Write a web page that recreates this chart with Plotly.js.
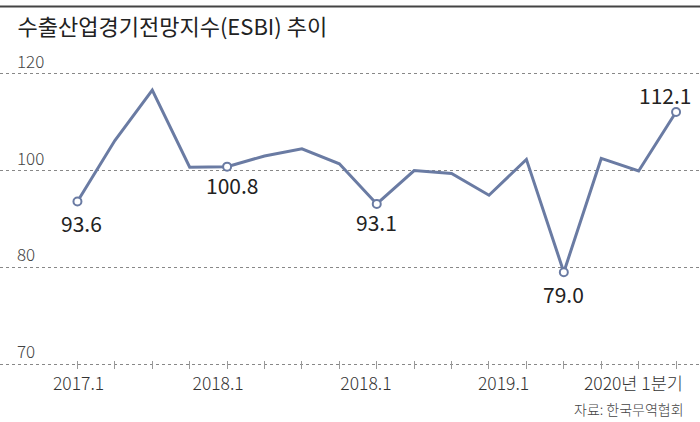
<!DOCTYPE html>
<html>
<head>
<meta charset="utf-8">
<script src="https://cdn.plot.ly/plotly-3.0.1.min.js"></script>
<style>html,body{margin:0;padding:0;background:#fff;}#chart{width:700px;height:422px;}</style>
</head>
<body>
<div id="chart"></div>
<script>
// Quarterly ESBI values (index positions 0..16)
const quarterIndex = [0,1,2,3,4,5,6,7,8,9,10,11,12,13,14,15,16];
const esbiValues = [93.6,106.2,116.6,100.7,100.8,103.0,104.5,101.4,93.1,100.0,99.4,94.9,102.3,79.0,102.5,99.9,112.1];
const labeledPoints = [0,4,8,13,16];
const xTickPos = [0.03,3.76,7.71,11.39,14.86];
const xTickText = ['2017.1','2018.1','2018.1','2019.1','2020년 1분기'];
const yTickVals = [60,80,100,120];
const yTickText = ['70','80','100','120'];

const FONT = '"Noto Sans CJK KR", "Noto Sans", sans-serif';
const LINE = '#6a7ba3';

const labelStyle = {0:[4,-21],4:[5,-18],8:[0,-18],13:[0,-22],16:[-11,17]};

const traces = [
  {x: quarterIndex, y: esbiValues, type:'scatter', mode:'lines',
   line:{color:LINE, width:3}, hoverinfo:'skip', showlegend:false},
  {x: labeledPoints.map(i=>quarterIndex[i]), y: labeledPoints.map(i=>esbiValues[i]),
   type:'scatter', mode:'markers',
   marker:{size:8, color:'#fff', line:{color:LINE, width:2}},
   hoverinfo:'skip', showlegend:false}
];

const annotations = labeledPoints.map(i=>({
  x: quarterIndex[i], y: esbiValues[i], xref:'x', yref:'y',
  text: esbiValues[i].toFixed(1), showarrow:false,
  xshift: labelStyle[i][0], yshift: labelStyle[i][1],
  font:{family:FONT, size:21, color:'#222'}
}));
annotations.push({
  xref:'paper', yref:'paper', x:0.98, y:-0.12, xanchor:'right', yanchor:'middle',
  text:'자료: 한국무역협회', showarrow:false,
  font:{family:FONT, size:14, color:'#444', weight:300}
});

const xr = [-2.07, 16.64];
const layout = {
  width:700, height:422,
  margin:{l:0, r:0, t:35, b:53},
  paper_bgcolor:'#fff', plot_bgcolor:'#fff',
  title:{text:'수출산업경기전망지수(ESBI) 추이', x:0.025, xanchor:'left', y:0.935, yanchor:'middle',
         font:{family:FONT, size:22, color:'#222'}},
  xaxis:{range:xr, tickmode:'array', tickvals:xTickPos, ticktext:xTickText, ticks:'',
         ticklabelstandoff:2, tickfont:{family:FONT, size:17.5, color:'#333', weight:300},
         minor:{tickmode:'array', tickvals:quarterIndex, ticks:'inside', ticklen:8, tickcolor:'#999', tickwidth:1, showgrid:false},
         showgrid:false, zeroline:false, showline:false, fixedrange:true},
  yaxis:{range:[59,128], tickmode:'array', tickvals:yTickVals, ticktext:yTickText,
         ticklabelposition:'inside top', ticklabelstandoff:14,
         showgrid:true, gridcolor:'#888', gridwidth:1, griddash:'dot', zeroline:false, showline:false,
         ticks:'', tickfont:{family:FONT, size:17, color:'#444', weight:300}},
  shapes:[{type:'line', xref:'paper', yref:'paper', x0:-0.01, x1:1.01, y0:1.085, y1:1.085,
           line:{color:'#444', width:2}}],
  annotations: annotations,
  showlegend:false
};
Plotly.newPlot('chart', traces, layout, {staticPlot:true, displayModeBar:false});
</script>
</body>
</html>
